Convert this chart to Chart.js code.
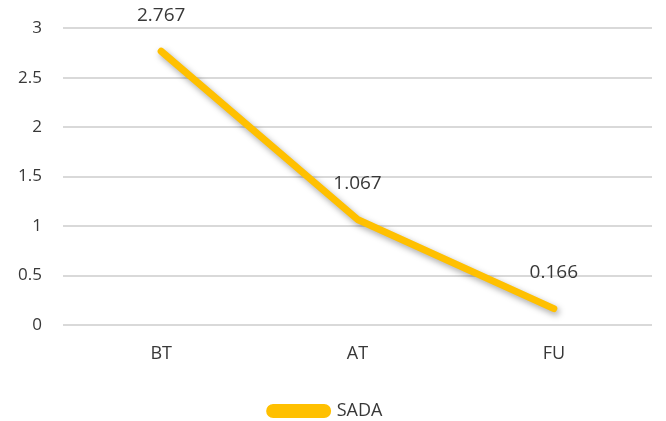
<!DOCTYPE html>
<html>
<head>
<meta charset="utf-8">
<script src="https://cdn.jsdelivr.net/npm/chart.js@4.4.1/dist/chart.umd.min.js"></script>
<style>
  html, body { margin: 0; padding: 0; background: #ffffff; }
  #wrap { width: 666px; height: 421px; position: relative; }
</style>
</head>
<body>
<div id="wrap"><canvas id="c" width="666" height="421"></canvas></div>
<script>
// Phases and SADA scores
const categories = ['BT', 'AT', 'FU'];
const sadaValues = [2.767, 1.067, 0.166];
const seriesName = 'SADA';
const yTicks = [0, 0.5, 1, 1.5, 2, 2.5, 3];

const GOLD = '#FFC000';
const TEXT = '#383838';
const FONT = "'Open Sans', 'Liberation Sans', sans-serif";

// Soft drop shadow under the line, drawn only for the datasets
const lineShadow = {
  id: 'lineShadow',
  beforeDatasetsDraw(chart) {
    const ctx = chart.ctx;
    ctx.save();
    ctx.shadowColor = 'rgba(0,0,0,0.35)';
    ctx.shadowBlur = 6;
    ctx.shadowOffsetX = 2;
    ctx.shadowOffsetY = 3;
  },
  afterDatasetsDraw(chart) {
    chart.ctx.restore();
  }
};

// Value labels above each point
const valueLabels = {
  id: 'valueLabels',
  afterDatasetsDraw(chart) {
    const ctx = chart.ctx;
    const meta = chart.getDatasetMeta(0);
    const data = chart.data.datasets[0].data;
    ctx.save();
    ctx.font = '19px ' + FONT;
    ctx.fillStyle = TEXT;
    ctx.textAlign = 'center';
    ctx.textBaseline = 'middle';
    meta.data.forEach((pt, i) => {
      ctx.fillText(data[i].toFixed(3), pt.x, pt.y - 36);
    });
    ctx.restore();
  }
};

new Chart(document.getElementById('c'), {
  type: 'line',
  data: {
    labels: categories,
    datasets: [{
      label: seriesName,
      data: sadaValues,
      borderColor: GOLD,
      backgroundColor: GOLD,
      borderWidth: 7,
      borderCapStyle: 'round',
      borderJoinStyle: 'round',
      pointRadius: 0,
      pointHoverRadius: 0,
      tension: 0,
      fill: false
    }]
  },
  options: {
    responsive: false,
    animation: false,
    events: [],
    layout: { padding: { left: 0, right: 14, top: 16, bottom: -9 } },
    scales: {
      x: {
        offset: true,
        grid: { display: false, drawTicks: false },
        border: { display: false },
        ticks: { color: TEXT, font: { family: FONT, size: 18 }, padding: 18 },
        afterFit(scale) { scale.height = 74; }
      },
      y: {
        min: 0,
        max: 3,
        afterBuildTicks(scale) { scale.ticks = yTicks.map(v => ({ value: v })); },
        grid: { color: '#d9d9d9', lineWidth: 2, drawTicks: false },
        border: { display: false },
        ticks: {
          color: TEXT,
          font: { family: FONT, size: 17, lineHeight: 0.85 },
          padding: 21,
          callback: v => String(v)
        },
        afterFit(scale) { scale.width = 63; }
      }
    },
    plugins: {
      legend: {
        position: 'bottom',
        labels: {
          color: TEXT,
          font: { family: FONT, size: 18 },
          boxWidth: 58,
          boxHeight: 7,
          useBorderRadius: true,
          borderRadius: 3.5,
          padding: 3
        }
      },
      tooltip: { enabled: false }
    }
  },
  plugins: [lineShadow, valueLabels]
});
</script>
</body>
</html>
